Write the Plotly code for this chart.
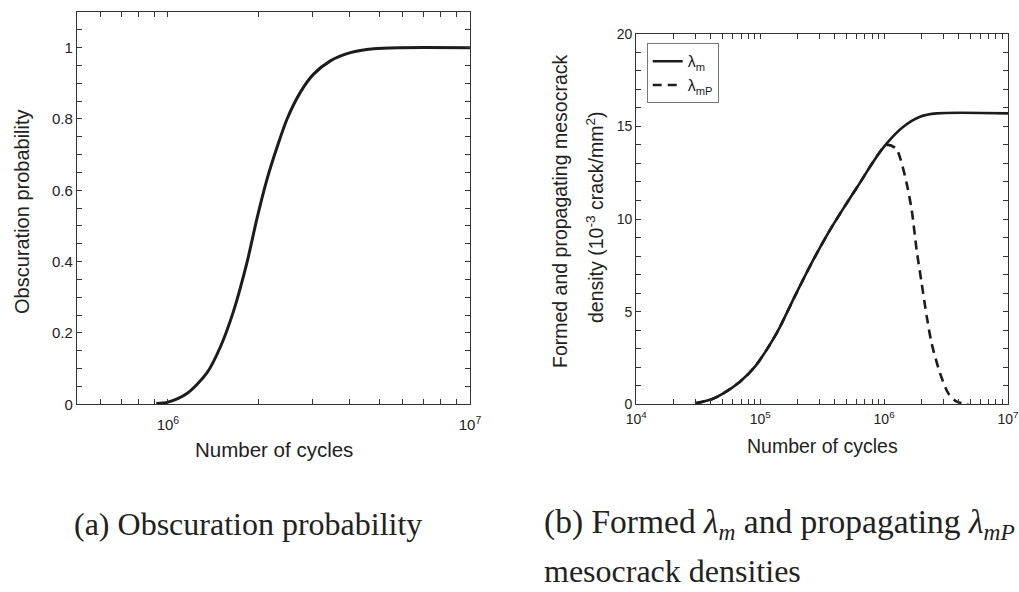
import plotly.graph_objects as go

W, H = 1019, 592

# ---------------- data ----------------
# (a) obscuration probability
cycles_a = [9.15e5, 1.0e6, 1.156e6, 1.346e6, 1.49e6, 1.65e6, 1.83e6, 1.97e6, 2.13e6,
            2.30e6, 2.48e6, 2.74e6, 3.03e6, 3.45e6, 4.02e6, 4.80e6, 5.87e6, 1.0e7]
prob_a = [0.002, 0.006, 0.030, 0.088, 0.160, 0.262, 0.400, 0.520, 0.632,
          0.722, 0.800, 0.874, 0.925, 0.963, 0.986, 0.997, 1.0, 1.0]

# (b) formed mesocrack density lambda_m
cycles_m = [2.98e4, 4.06e4, 5.04e4, 6.87e4, 9.08e4, 1.13e5, 1.40e5, 1.91e5, 2.68e5,
            3.66e5, 4.99e5, 6.38e5, 8.0e5, 1.05e6, 1.43e6, 1.95e6, 2.66e6, 1.0e7]
lam_m = [0.05, 0.27, 0.59, 1.22, 2.03, 2.95, 4.0, 5.85, 7.79,
         9.41, 10.85, 11.95, 13.0, 14.08, 14.98, 15.52, 15.70, 15.70]

# (b) propagating mesocrack density lambda_mP
cycles_mp = [2.98e4, 4.06e4, 5.04e4, 6.87e4, 9.08e4, 1.13e5, 1.40e5, 1.91e5, 2.68e5,
             3.66e5, 4.99e5, 6.38e5, 8.0e5, 1.0e6, 1.08e6, 1.25e6, 1.36e6, 1.52e6,
             1.67e6, 1.83e6, 2.01e6, 2.21e6, 2.42e6, 2.83e6, 3.30e6, 3.85e6, 4.78e6]
lam_mp = [0.05, 0.27, 0.59, 1.22, 2.03, 2.95, 4.0, 5.85, 7.79,
          9.41, 10.85, 11.95, 13.0, 13.9, 14.0, 13.8, 13.2, 11.93,
          10.49, 8.33, 6.53, 4.73, 3.29, 1.67, 0.59, 0.14, 0.02]

# tick positions / labels
ytick_a = [0, 0.2, 0.4, 0.6, 0.8, 1.0]
ylab_a = ["0", "0.2", "0.4", "0.6", "0.8", "1"]
xtick_a = [1e6, 1e7]
xminor_a = [6e5, 7e5, 8e5, 9e5] + [m * 1e6 for m in range(2, 10)]
ytick_b = [0, 5, 10, 15, 20]
xtick_b = [1e4, 1e5, 1e6, 1e7]
xminor_b = [m * 10 ** e for e in (4, 5, 6) for m in range(2, 10)]
pow_lab = {1e4: "10<sup>4</sup>", 1e5: "10<sup>5</sup>", 1e6: "10<sup>6</sup>", 1e7: "10<sup>7</sup>"}

# ---------------- layout helpers ----------------
def px(x):
    return x / W

def py(y):
    return 1 - y / H

LINE = "#1c1c1c"
AX = "#333333"
SANS = "Liberation Sans, Arial, sans-serif"
SERIF = "Liberation Serif, Times New Roman, serif"

fig = go.Figure()
fig.add_trace(go.Scatter(x=cycles_a, y=prob_a, mode="lines", xaxis="x", yaxis="y",
                         line=dict(color=LINE, width=3, shape="spline", smoothing=0.8),
                         showlegend=False))
fig.add_trace(go.Scatter(x=cycles_m, y=lam_m, mode="lines", xaxis="x2", yaxis="y2",
                         name="λ<sub>m</sub>",
                         line=dict(color=LINE, width=2.6, shape="spline", smoothing=0.8)))
fig.add_trace(go.Scatter(x=cycles_mp, y=lam_mp, mode="lines", xaxis="x2", yaxis="y2",
                         name="λ<sub>mP</sub>",
                         line=dict(color=LINE, width=2.6, shape="spline", smoothing=0.8,
                                   dash="9px,6px")))

minor_style = dict(ticks="inside", ticklen=5, tickcolor=AX, tickwidth=1, showgrid=False)
common = dict(showgrid=False, zeroline=False, showline=True, linecolor=AX, linewidth=1.2,
              mirror="ticks", ticks="inside", ticklen=5, tickcolor=AX, tickwidth=1,
              automargin=False)

fig.update_layout(
    width=W, height=H, paper_bgcolor="white", plot_bgcolor="white",
    margin=dict(l=0, r=0, t=0, b=0, autoexpand=False),
    font=dict(family=SANS, color="#222222"),
    xaxis=dict(common, type="log", range=[5.699, 7.0],
               domain=[px(77), px(470)], anchor="y",
               tickvals=xtick_a, ticktext=[pow_lab[v] for v in xtick_a],
               minor=dict(minor_style, tickvals=xminor_a),
               tickfont=dict(size=15), ticklabelstandoff=7),
    yaxis=dict(common, range=[0, 1.1], domain=[py(404.3), py(12)], anchor="x",
               tickvals=ytick_a, ticktext=ylab_a,
               minor=dict(minor_style, dtick=0.05, tick0=0),
               tickfont=dict(size=15)),
    xaxis2=dict(common, type="log", range=[4, 7],
                domain=[px(636.3), px(1008)], anchor="y2",
                tickvals=xtick_b, ticktext=[pow_lab[v] for v in xtick_b],
                minor=dict(minor_style, tickvals=xminor_b),
                tickfont=dict(size=14), ticklabelstandoff=2),
    yaxis2=dict(common, range=[0, 20], domain=[py(404.3), py(33.7)], anchor="x2",
                tickvals=ytick_b, ticktext=[str(v) for v in ytick_b],
                minor=dict(minor_style, dtick=1, tick0=0),
                tickfont=dict(size=14)),
    legend=dict(x=px(646.7), y=py(43.3), xanchor="left", yanchor="top",
                bordercolor="#777777", borderwidth=1, bgcolor="white",
                font=dict(family=SANS, size=16, color="#222222"),
                itemwidth=30),
)

ann = [
    dict(text="Obscuration probability", x=px(22), y=py(212), textangle=-90,
         font=dict(size=20)),
    dict(text="Number of cycles", x=px(274), y=py(449), font=dict(size=20.5)),
    dict(text="Formed and propagating mesocrack", x=px(560), y=py(212), textangle=-90,
         font=dict(size=19.5)),
    dict(text="density (10<sup>-3</sup> crack/mm<sup>2</sup>)", x=px(595), y=py(217),
         textangle=-90, font=dict(size=19.5)),
    dict(text="Number of cycles", x=px(822), y=py(446), font=dict(size=19.5)),
    dict(text="(a) Obscuration probability", x=px(72), y=py(524), xanchor="left",
         font=dict(family=SERIF, size=32)),
    dict(text="(b) Formed <i>λ<sub>m</sub></i> and propagating <i>λ<sub>mP</sub></i>",
         x=px(542), y=py(524), xanchor="left", font=dict(family=SERIF, size=33.5)),
    dict(text="mesocrack densities", x=px(542), y=py(571), xanchor="left",
         font=dict(family=SERIF, size=32)),
]
for a in ann:
    a.setdefault("xanchor", "center")
    a.setdefault("yanchor", "middle")
    a.update(xref="paper", yref="paper", showarrow=False)
    f = a["font"]
    f.setdefault("family", SANS)
    f.setdefault("color", "#222222")
fig.update_layout(annotations=ann)

fig.write_html("out.html", config={"displayModeBar": False},
               post_script="document.body.style.margin='0px';document.body.style.overflow='hidden';")
